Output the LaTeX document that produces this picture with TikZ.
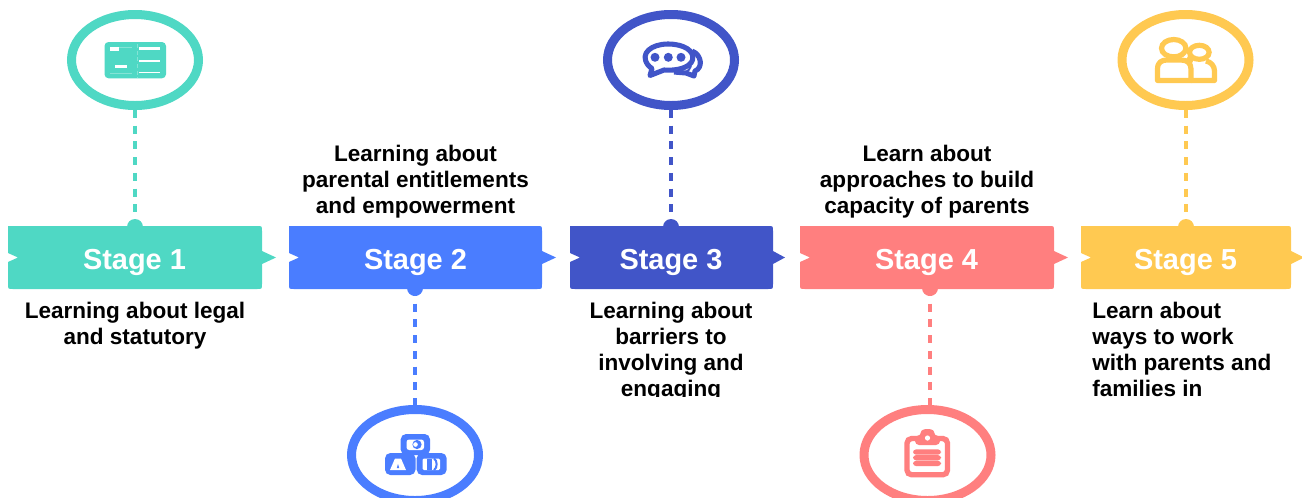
\documentclass[tikz,border=0pt]{standalone}
\usepackage{fontspec}
\setmainfont{Liberation Sans}
\usetikzlibrary{shapes.geometric}
\definecolor{cteal}{HTML}{4FD8C4}
\definecolor{cblue}{HTML}{4A7DFF}
\definecolor{cindigo}{HTML}{4155C8}
\definecolor{ccoral}{HTML}{FF7F7F}
\definecolor{cyellow}{HTML}{FFC951}
\tikzset{
  ring/.style={ellipse,draw=#1,line width=6.75pt,minimum width=95.25pt,minimum height=68.25pt,inner sep=0pt,fill=white},
  knob/.style={circle,fill=#1,minimum size=12pt,inner sep=0pt},
  link/.style={draw=#1,line width=2.7pt,dash pattern=on 6pt off 5.8pt},
  stagelabel/.style={text=white,font=\bfseries\fontsize{21.7}{26}\selectfont,inner sep=0pt},
  captext/.style={text=black,font=\bfseries\fontsize{16.9}{19.5}\selectfont,inner sep=0pt,align=#1,anchor=north},
}
\newcommand{\stagebox}[6]{%
  \fill[#5] (#2,226) -- ({#3-5},226) .. controls (#3,226) .. (#3,231) -- (#3,251) -- ({#3+#6},257.5) -- (#3,264) -- (#3,284)
    .. controls (#3,289) .. ({#3-5},289) -- ({#2+5},289) .. controls (#2,289) .. (#2,284) -- (#2,262) -- ({#2+10},257.5) -- (#2,253) -- cycle;
  \node[stagelabel] (#1) at (#4,262) {\strut};
}
\begin{document}
\begin{tikzpicture}[x=0.75pt,y=-0.75pt]
\useasboundingbox (0,0) rectangle (1302,497);
\clip (0,0) rectangle (1302,497);

% stage boxes
\stagebox{s1}{8}{262}{134.5}{cteal}{14}
\stagebox{s2}{289}{542}{415.5}{cblue}{14}
\stagebox{s3}{570}{773}{671}{cindigo}{12}
\stagebox{s4}{800}{1054}{926.5}{ccoral}{14}
\stagebox{s5}{1081}{1291}{1185.5}{cyellow}{13}
\node[stagelabel] at (s1) {Stage 1};
\node[stagelabel] at (s2) {Stage 2};
\node[stagelabel] at (s3) {Stage 3};
\node[stagelabel] at (s4) {Stage 4};
\node[stagelabel] at (s5) {Stage 5};

% knobs
\node[knob=cteal]   (k1) at (135,227) {};
\node[knob=cblue]   (k2) at (415,288) {};
\node[knob=cindigo] (k3) at (671,227) {};
\node[knob=ccoral]  (k4) at (930,288) {};
\node[knob=cyellow] (k5) at (1186,227) {};

% rings
\node[ring=cteal]   (e1) at (135,60) {};
\node[ring=cblue]   (e2) at (415,455) {};
\node[ring=cindigo] (e3) at (671,60) {};
\node[ring=ccoral]  (e4) at (927.5,455) {};
\node[ring=cyellow] (e5) at (1185.5,60) {};

% connectors
\draw[link=cteal]   (e1.south) -- (k1.center);
\draw[link=cblue]   (k2.center) -- (e2.north -| k2.center);
\draw[link=cindigo] (e3.south) -- (k3.center);
\draw[link=ccoral]  (k4.center) -- (e4.north -| k4.center);
\draw[link=cyellow] (e5.south -| k5.center) -- (k5.center);

% captions
\begin{scope}
\clip (0,0) rectangle (1302,396.5);
\node[captext=center] (t1) at (135,301.5) {Learning about legal\\and statutory};
\node[captext=center] (t2) at (415.5,144.5) {Learning about\\parental entitlements\\and empowerment};
\node[captext=center] (t3) at (671,301.5) {Learning about\\barriers to\\involving and\\engaging};
\node[captext=center] (t4) at (927,144.5) {Learn about\\approaches to build\\capacity of parents};
\node[captext=left,anchor=north west] (t5) at (1092,301.5) {Learn about\\ways to work\\with parents and\\families in};
\end{scope}

% icon 1: card
\fill[cteal,rounded corners=3pt] (104.5,42) rectangle (166,78.3);
\fill[white] (110,47.3) rectangle (119.3,51.3);
\fill[white] (115,65) rectangle (126.7,67.7);
\fill[white] (138.7,47.3) rectangle (160,50);
\fill[white] (138.7,60) rectangle (160,62.3);
\fill[white] (138.7,72) rectangle (160,73.3);
\draw[white,opacity=.3,line width=.4pt] (110,73.3) -- (132,73.3) (119.3,47.5) -- (132,47.5);
\draw[white,opacity=.3,line width=.5pt,dash pattern=on 3pt off 2pt] (137.5,44) -- (137.5,78);

% icon 2: blocks
\fill[cblue,rounded corners=4pt] (400.7,434) rectangle (430,455);
\fill[cblue,rounded corners=4pt] (385,453) rectangle (415.5,475);
\fill[cblue,rounded corners=4pt] (416.7,453) rectangle (446.7,475);
\fill[white,rounded corners=2pt] (406.5,439.5) rectangle (424,450);
\fill[cblue] (417,444.5) circle (4.6);
\fill[white] (415.5,444.5) circle (2.3);
\fill[white] (390,470) -- (395,458.5) -- (401,458.5) -- (406,470) -- cycle;
\fill[cblue] (396.8,468) -- (398,464) -- (399.2,468) -- cycle;
\fill[white,rounded corners=1pt] (422.5,458.5) rectangle (440,470);
\fill[cblue] (427,458.5) rectangle (431.5,470);
\draw[cblue,line width=1.5pt] (434,458.5) .. controls (437.5,460) and (437.5,468.5) .. (434,470);

% icon 3: chat
\draw[cindigo,line width=3.8pt,line join=round] (692,51) .. controls (702,55) and (703,68) .. (695,71) -- (694,76) -- (686,73) -- (674,72);
\draw[cindigo,line width=1.5pt] (691,66) .. controls (690,69) and (688,71) .. (686,72);
\draw[cindigo,fill=white,line width=3.8pt,line join=round]
  (648,65) .. controls (639,53) and (652,44) .. (668,44) .. controls (684,44) and (695,51) .. (692.5,60)
  .. controls (690,68) and (676,71) .. (664,70) -- (650,75.5) -- (652,68.5) .. controls (650,67.5) and (649,66) .. (648,65) -- cycle;
\foreach \dx in {655,668.3,681} \fill[cindigo] (\dx,57.3) circle (4.5);

% icon 4: clipboard
\draw[ccoral,line width=4pt,rounded corners=3.5pt] (907,438.5) rectangle (947.5,474.8);
\fill[ccoral,rounded corners=3pt] (915,445) -- (915,436) -- (921,436) .. controls (921,428) and (934,428) .. (934,436) -- (940,436) -- (940,445) -- cycle;
\fill[white] (927.5,438) circle (2.6);
\foreach \yy in {449.3,455,460.7}
  \fill[ccoral,rounded corners=2.4pt] (913,\yy) rectangle (941,{\yy+5.4});

% icon 5: people
\draw[cyellow,line width=3.9pt] (1173.7,48.2) ellipse (12.2 and 8.7);
\draw[cyellow,line width=3.9pt] (1199.3,52.3) ellipse (9.8 and 7);
\draw[cyellow,fill=white,line width=3.9pt,line join=round] (1157.5,80.5) -- (1157.5,69) .. controls (1157.5,62) and (1162,60) .. (1167,60) -- (1181,60) .. controls (1187,60) and (1191,63) .. (1191,69) -- (1191,80.5) -- cycle;
\draw[cyellow,line width=3.9pt,line join=round] (1191,80.5) -- (1214.5,80.5) -- (1214.5,71) .. controls (1214.5,66) and (1211,62) .. (1206,61) (1193,61) -- (1187,58);
\end{tikzpicture}
\end{document}
